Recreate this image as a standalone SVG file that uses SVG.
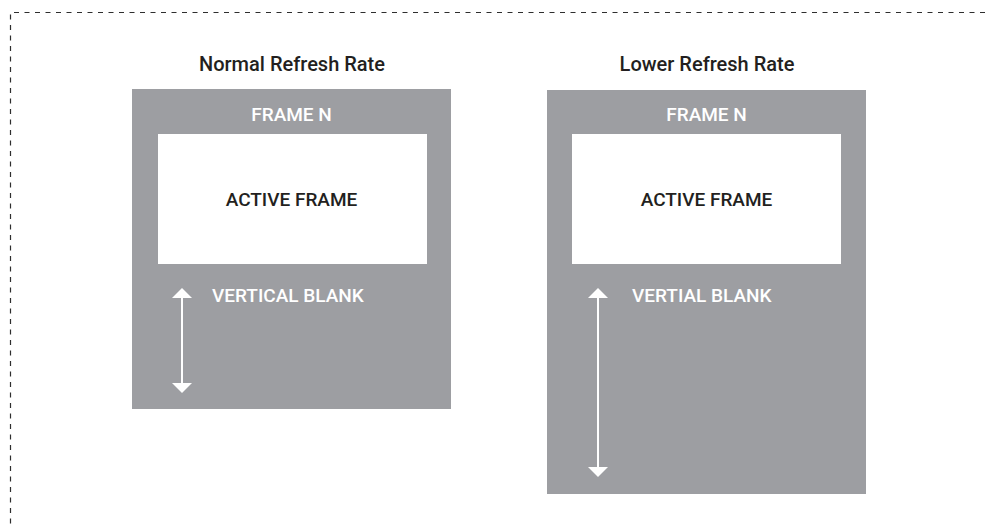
<svg xmlns="http://www.w3.org/2000/svg" width="985" height="527" viewBox="0 0 985 527">
<style>
.frame{fill:#9d9ea2}
.active{fill:#ffffff}
.title{font-family:Roboto,"Liberation Sans",sans-serif;font-weight:500;font-size:20px;fill:#231f20}
.lbl{font-family:Roboto,"Liberation Sans",sans-serif;font-weight:500;font-size:19px;fill:#ffffff}
.dark{fill:#231f20}
.border{fill:none;stroke:#2e2e2e;stroke-width:1.2;stroke-dasharray:5 5.5}
.arr{stroke:#ffffff;stroke-width:2;fill:none}
.head{fill:#ffffff}
</style>
<path class="border" d="M985 12.5 H10.5 V527"/>
<g id="normal">
<text class="title" x="292" y="71" text-anchor="middle">Normal Refresh Rate</text>
<rect class="frame" x="132" y="89" width="319" height="320"/>
<text class="lbl" x="291.5" y="121" text-anchor="middle">FRAME N</text>
<rect class="active" x="158" y="134" width="269" height="130"/>
<text class="lbl dark" x="291.5" y="206" text-anchor="middle">ACTIVE FRAME</text>
<text class="lbl" x="212" y="302">VERTICAL BLANK</text>
</g>
<g id="lower">
<text class="title" x="707" y="71" text-anchor="middle">Lower Refresh Rate</text>
<rect class="frame" x="547" y="90" width="319" height="404"/>
<text class="lbl" x="706.5" y="121" text-anchor="middle">FRAME N</text>
<rect class="active" x="572" y="134" width="269" height="130"/>
<text class="lbl dark" x="706.5" y="206" text-anchor="middle">ACTIVE FRAME</text>
<text class="lbl" x="632" y="302">VERTIAL BLANK</text>
</g>
<g id="connectors">
<line class="arr" x1="182" y1="296" x2="182" y2="385"/>
<polygon class="head" points="182,288 172,298 192,298"/>
<polygon class="head" points="182,393 172,383 192,383"/>
<line class="arr" x1="598" y1="296" x2="598" y2="469"/>
<polygon class="head" points="598,288 588,298 608,298"/>
<polygon class="head" points="598,477 588,467 608,467"/>
</g>
</svg>
